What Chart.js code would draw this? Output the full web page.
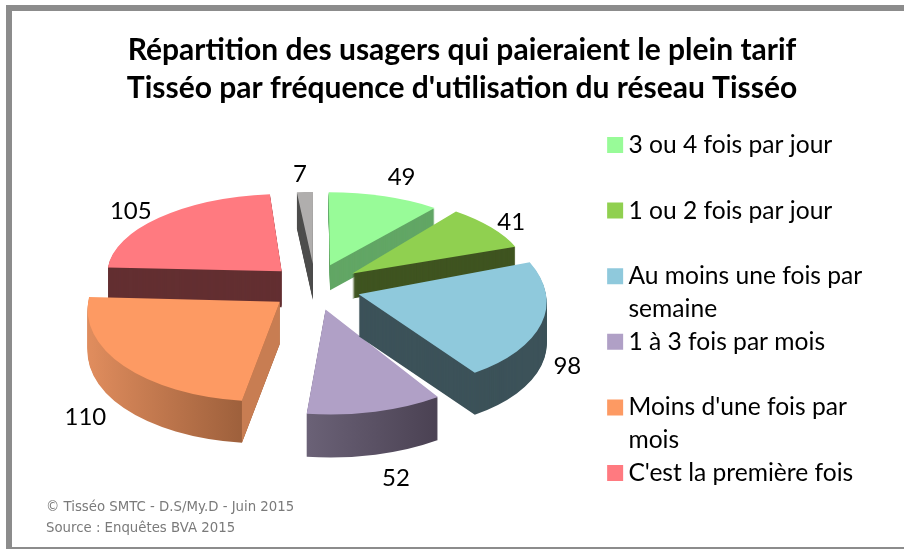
<!DOCTYPE html>
<html lang="fr">
<head>
<meta charset="utf-8">
<title>Répartition des usagers</title>
<script src="https://cdn.jsdelivr.net/npm/chart.js@4"></script>
<style>
  html, body { margin: 0; padding: 0; background: #fff; overflow: hidden; }
  #frame { position: absolute; left: 6px; top: 5px; width: 910px; height: 536px; border: solid #8c8c8c; border-width: 6px 0 2px 6px; }
  canvas { position: absolute; left: 0; top: 0; display: block; }
</style>
</head>
<body>
<div id="frame"></div>
<canvas id="pie3d" width="904" height="549"></canvas>
<script>
const titleLines = [
  "Répartition des usagers qui paieraient le plein tarif",
  "Tisséo par fréquence d'utilisation du réseau Tisséo",
];
const footLines = ["© Tisséo SMTC - D.S/My.D - Juin 2015", "Source : Enquêtes BVA 2015"];
const categories = [
  "3 ou 4 fois par jour",
  "1 ou 2 fois par jour",
  "Au moins une fois par semaine",
  "1 à 3 fois par mois",
  "Moins d'une fois par mois",
  "C'est la première fois",
  "Non renseigné",
];
const values = [49, 41, 98, 52, 110, 105, 7];

// legend text, wrapped the way the original wraps it (the grey slice has no entry)
// the nbsp on the widest line only pushes the legend left to where it belongs
const legendLines = [
  ["3 ou 4 fois par jour", ""],
  ["1 ou 2 fois par jour", ""],
  ["Au moins une fois par\u00a0", "semaine"],
  ["1 à 3 fois par mois", ""],
  ["Moins d'une fois par", "mois"],
  ["C'est la première fois"],
];

const topColors = ["#98fb98", "#90d050", "#8fc9dc", "#b0a0c6", "#fd9a63", "#ff7a80", "#b0aead"];
const wallColors = ["#62a665", "#3f5420", "#3c5259", ["#736a80", "#483f50"], ["#df8c5d", "#9c5f3b"], "#632f31", "#4e4e4d"];
const cutColors = [null, null, null, null, "#c87d52", null, null];
const wallDepths = [25, 25, 42, 43, 42, 36, 36];
const paintOrder = [6, 0, 5, 1, 4, 3, 2];
// where each value label sits relative to its slice's outer edge
const labelNudges = [[11, -26], [9, -8], [33, 43], [28, 66], [-53, 52], [-17, -11], [-4, -25]];

const pieRadius = 187;
const explode = 46;
const explodeTilt = 0.5;
const labelReach = 231;
const pieCenter = { x: 315, y: 287 };

// each slice gets its own flat transform, a cheap stand-in for real perspective:
// slices at the front are taller and wider, the sides lean away from the centre
function viewOf(arc) {
  const canvasMid = (arc.startAngle + arc.endAngle) / 2;
  const mid = canvasMid + Math.PI / 2;
  return {
    canvasMid: canvasMid,
    tilt: 0.475 - 0.09 * Math.cos(mid),
    stretch: 0.98 - 0.07 * Math.cos(mid),
    lean: Math.sin(mid) * (0.07 - 0.05 * Math.cos(mid)),
    apexX: pieCenter.x + Math.cos(canvasMid) * explode,
    apexY: pieCenter.y + Math.sin(canvasMid) * explode * explodeTilt,
  };
}

function withSlice(ctx, arc, drop, paint) {
  const v = viewOf(arc);
  ctx.save();
  ctx.translate(v.apexX, v.apexY + drop);
  ctx.transform(v.stretch, 0, v.lean, v.tilt, 0, 0);
  ctx.translate(-arc.x, -arc.y);
  paint();
  ctx.restore();
}

function wallFill(ctx, arc, spec) {
  if (!Array.isArray(spec)) return spec;
  const grad = ctx.createLinearGradient(arc.x - pieRadius, 0, arc.x + pieRadius, 0);
  const side = Math.cos((arc.startAngle + arc.endAngle) / 2);
  grad.addColorStop(side < 0 ? 0.02 : 0.35, spec[0]);
  grad.addColorStop(side < 0 ? 0.45 : 0.8, spec[1]);
  return grad;
}

const pie3dPlugin = {
  id: "pie3d",
  beforeDatasetsDraw(chart) {
    const ctx = chart.ctx;
    const arcs = chart.getDatasetMeta(0).data;
    paintOrder.forEach(function (i) {
      const arc = arcs[i];
      const base = arc.options;
      arc.options = Object.assign({}, base, { backgroundColor: wallFill(ctx, arc, wallColors[i]) });
      for (let d = wallDepths[i]; d > 0; d--) {
        withSlice(ctx, arc, d, function () { arc.draw(ctx); });
      }
      arc.options = base;
      if (cutColors[i]) {
        const v = viewOf(arc);
        const dx = Math.cos(arc.startAngle) * pieRadius;
        const dy = Math.sin(arc.startAngle) * pieRadius;
        const ex = v.apexX + v.stretch * dx + v.lean * dy;
        const ey = v.apexY + v.tilt * dy;
        ctx.fillStyle = cutColors[i];
        ctx.beginPath();
        ctx.moveTo(v.apexX, v.apexY);
        ctx.lineTo(ex, ey);
        ctx.lineTo(ex, ey + wallDepths[i]);
        ctx.lineTo(v.apexX, v.apexY + wallDepths[i]);
        ctx.closePath();
        ctx.fill();
      }
      withSlice(ctx, arc, 0, function () { arc.draw(ctx); });
    });
    return false;
  },
  afterDraw(chart) {
    const ctx = chart.ctx;
    const arcs = chart.getDatasetMeta(0).data;
    ctx.save();
    ctx.font = "24px Lato";
    ctx.fillStyle = "#000";
    ctx.textAlign = "center";
    ctx.textBaseline = "middle";
    arcs.forEach(function (arc, i) {
      const v = viewOf(arc);
      const x = pieCenter.x + Math.cos(v.canvasMid) * labelReach + labelNudges[i][0];
      const y = pieCenter.y + Math.sin(v.canvasMid) * labelReach * (0.47 - 0.09 * Math.cos(v.canvasMid + Math.PI / 2)) + labelNudges[i][1];
      ctx.fillText(String(values[i]), x, y);
    });
    ctx.restore();
  },
};

function legendRows() {
  const rows = [];
  legendLines.forEach(function (lines, i) {
    lines.forEach(function (text, n) {
      const first = n === 0;
      rows.push({
        text: text,
        fillStyle: first ? topColors[i] : "transparent",
        strokeStyle: first ? topColors[i] : "transparent",
        // a tiny box with a fat stroke keeps the text as close to the swatch as the original
        lineWidth: first ? 14 : 0,
        fontColor: "#000",
        hidden: false,
        index: i,
      });
    });
  });
  return rows;
}

new Chart(document.getElementById("pie3d"), {
  type: "pie",
  data: {
    labels: categories,
    datasets: [{ data: values, backgroundColor: topColors, borderWidth: 0, radius: pieRadius }],
  },
  options: {
    responsive: false,
    animation: false,
    layout: { padding: { left: 46, right: 26, top: 0, bottom: 4 } },
    plugins: {
      tooltip: { enabled: false },
      title: {
        display: true,
        text: titleLines,
        color: "#000",
        font: { family: "Lato", size: 30, weight: "bold", lineHeight: 38 / 30 },
        padding: { top: 31, bottom: 17.5 },
      },
      subtitle: {
        display: true,
        position: "bottom",
        align: "start",
        text: footLines,
        color: "#7a7a7a",
        font: { family: "DejaVu Sans", size: 13.3, lineHeight: 21 / 13.3 },
        padding: { top: 0, bottom: 6 },
      },
      legend: {
        position: "right",
        fullSize: false,
        align: "start",
        labels: {
          boxWidth: 2,
          boxHeight: 2,
          padding: 8.2,
          color: "#000",
          font: { family: "Lato", size: 24.6, lineHeight: 1 },
          generateLabels: legendRows,
        },
      },
    },
  },
  plugins: [pie3dPlugin],
});
</script>
</body>
</html>
